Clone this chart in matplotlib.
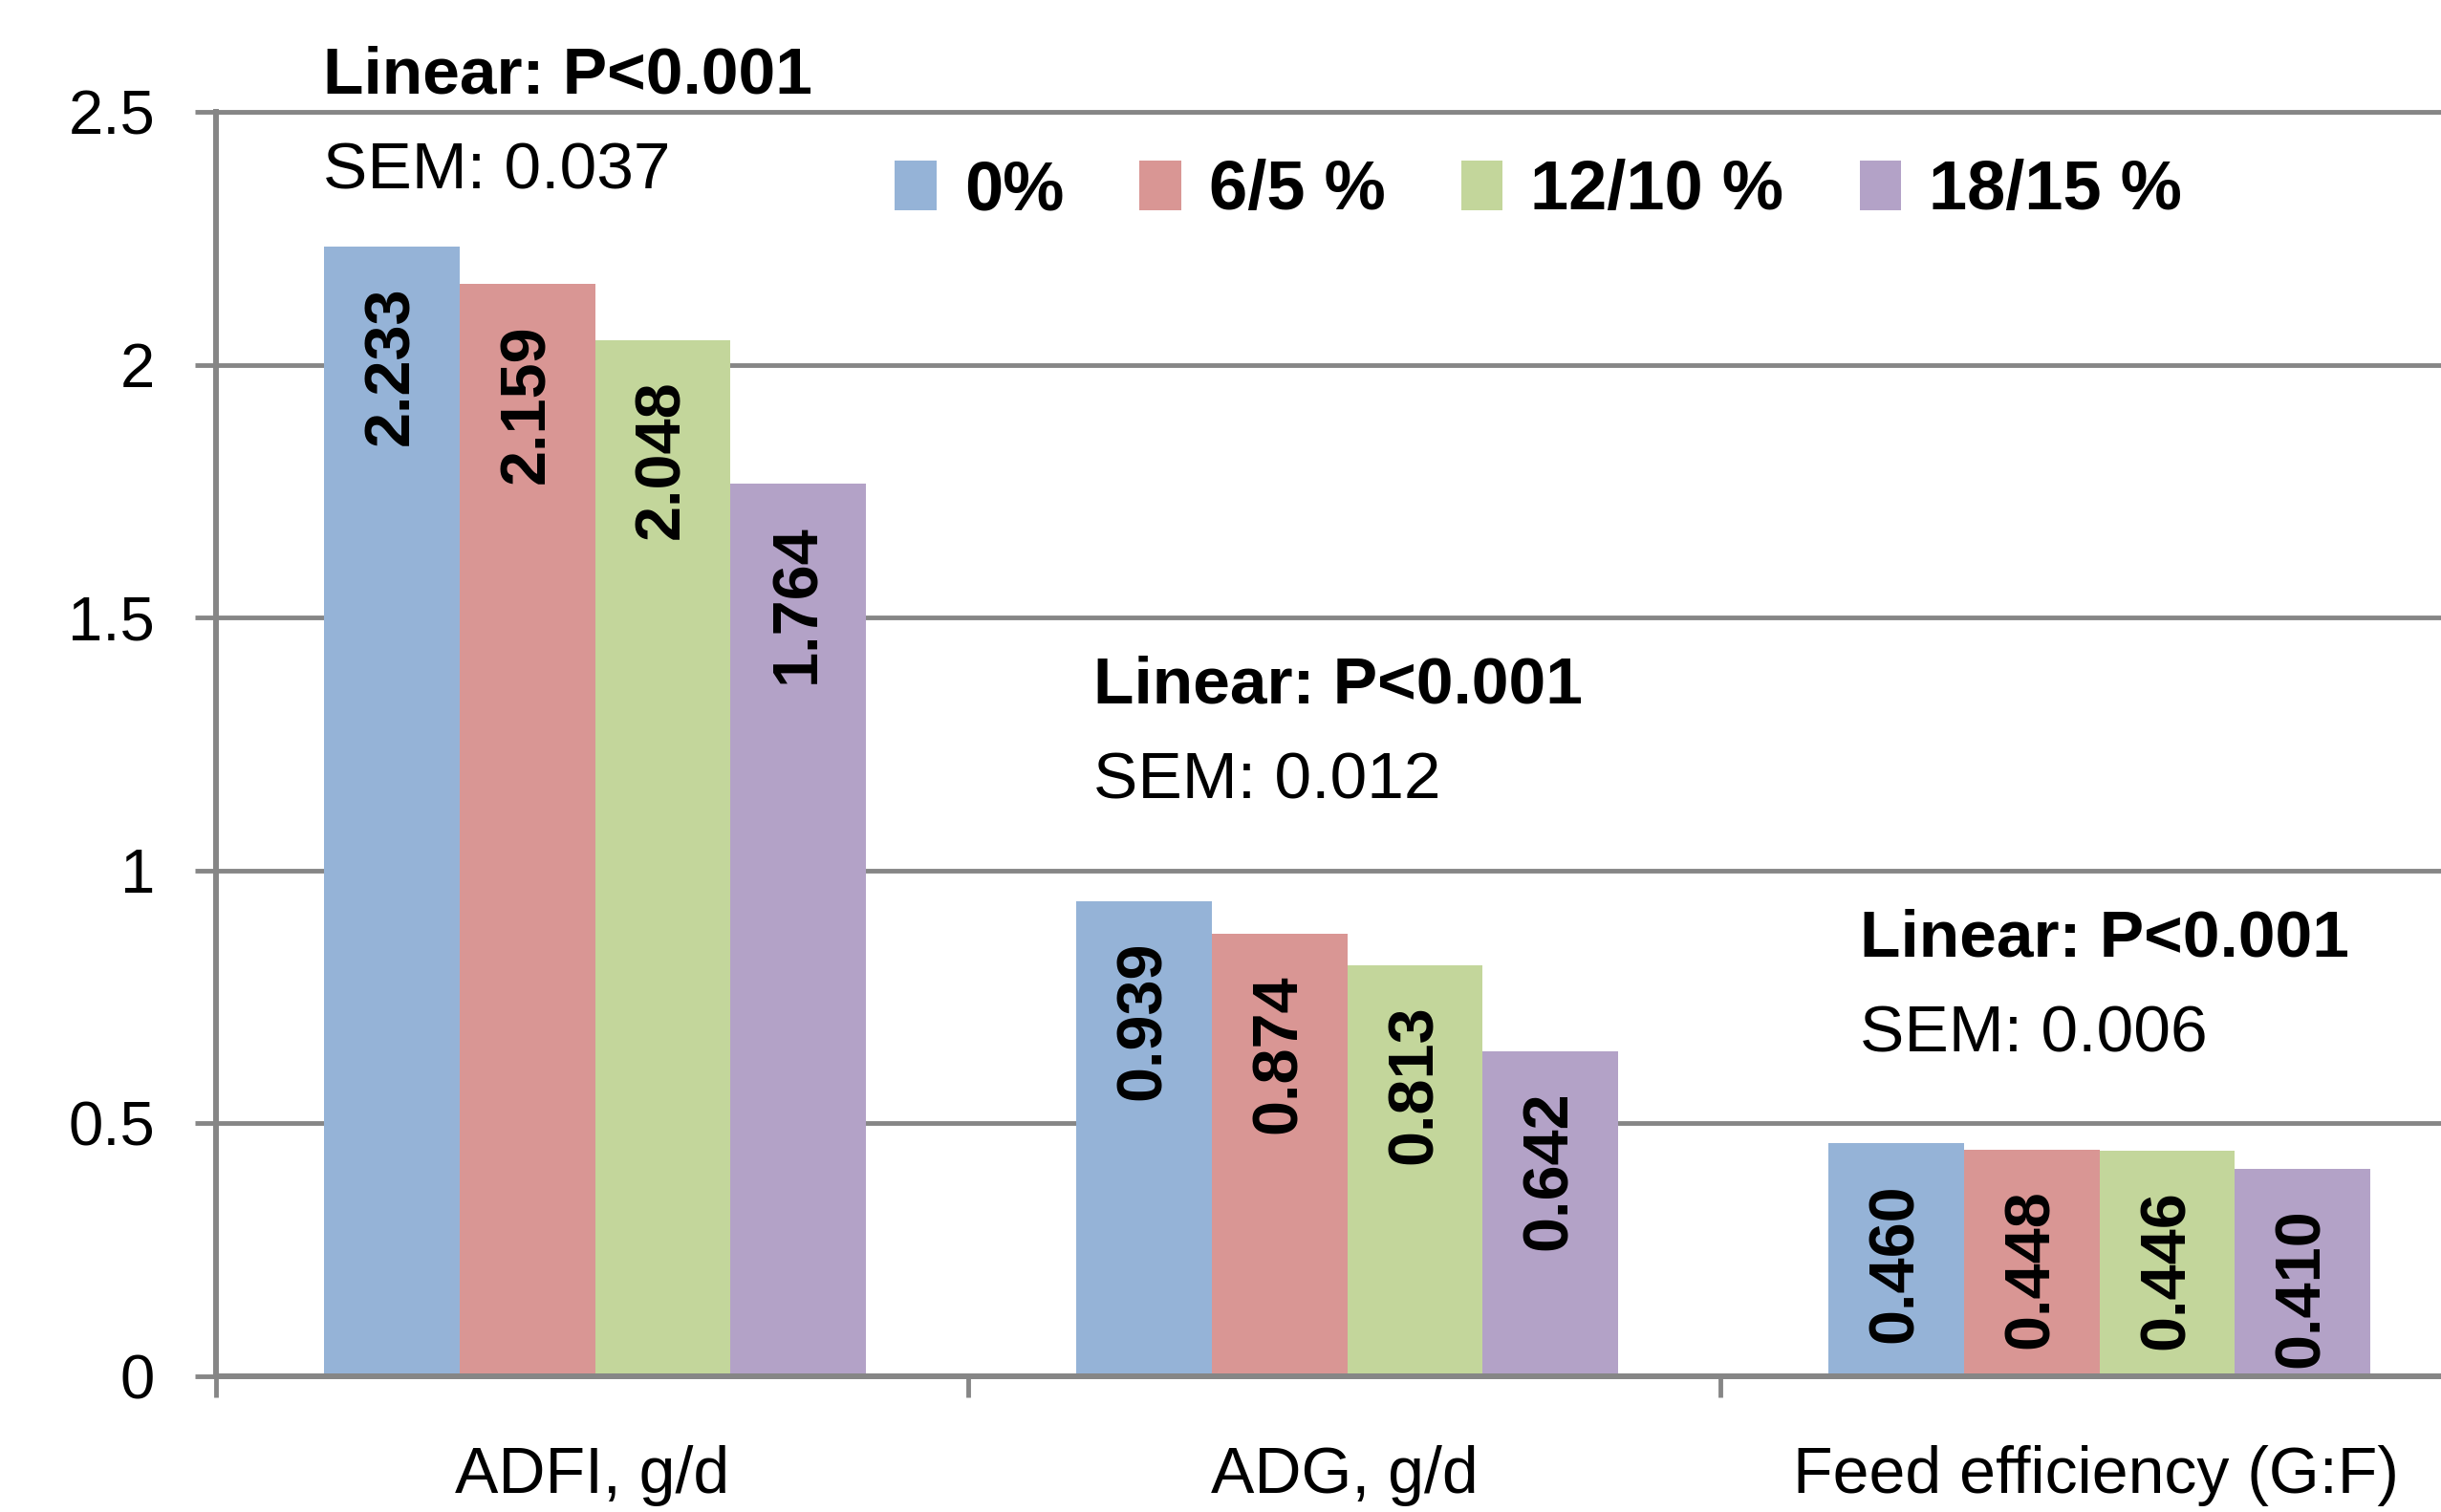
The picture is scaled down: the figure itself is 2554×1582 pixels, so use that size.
import matplotlib
matplotlib.use('Agg')
import matplotlib.pyplot as plt
import matplotlib.transforms as mtransforms
from matplotlib.patches import Patch
import numpy as np

plt.rcParams['font.family'] = ['Liberation Sans', 'DejaVu Sans']

# values
categories = ['ADFI, g/d', 'ADG, g/d', 'Feed efficiency (G:F)']
levels = ['0%', '6/5 %', '12/10 %', '18/15 %']
level_0 = [2.233, 0.939, 0.460]
level_6_5 = [2.159, 0.874, 0.448]
level_12_10 = [2.048, 0.813, 0.446]
level_18_15 = [1.764, 0.642, 0.410]
p_texts = ['Linear: P<0.001', 'Linear: P<0.001', 'Linear: P<0.001']
sem_values = [0.037, 0.012, 0.006]
y_ticks = [0, 0.5, 1, 1.5, 2, 2.5]
y_tick_labels = ['0', '0.5', '1', '1.5', '2', '2.5']

colors = ['#95B3D7', '#D99694', '#C3D69B', '#B3A2C7']
grid_color = '#868686'

# where the P / SEM notes sit (x relative to group centre, y in data units)
note_dx = [-0.358, -0.334, -0.314]
note_y = [2.536, 1.332, 0.831]
sem_y = [2.347, 1.143, 0.642]

bar_w = 0.18
bar_shift = 0.004


def draw():
    fig = plt.figure(figsize=(25.54, 15.82), dpi=100)
    # the plot area runs a bit past the right edge, like the cropped original
    ax = fig.add_axes([0.0885, 0.0898, 0.9244, 0.8363])

    series = [level_0, level_6_5, level_12_10, level_18_15]
    x = np.arange(len(categories)) + bar_shift
    for j, vals in enumerate(series):
        xs = x + (j - 1.5) * bar_w
        ax.bar(xs, vals, width=bar_w, color=colors[j], linewidth=0, label=levels[j])
        for xi, v in zip(xs, vals):
            ax.annotate(f'{v:.3f}', xy=(xi, v), xytext=(0, -30), textcoords='offset points',
                        rotation=90, ha='center', va='top', fontsize=48, fontweight='bold')

    ax.set_xlim(-0.5, 2.5)
    ax.set_ylim(0, 2.5)
    ax.set_yticks(y_ticks)
    ax.set_yticklabels(y_tick_labels)
    ax.set_xticks([-0.5, 0.5, 1.5, 2.5])
    ax.set_xticklabels([])

    ax.tick_params(axis='y', direction='out', length=16, width=3.5, color=grid_color,
                   pad=30, labelsize=47)
    ax.tick_params(axis='x', direction='out', length=16, width=3.5, color=grid_color)

    ax.yaxis.grid(True, color=grid_color, linewidth=3.5)
    ax.set_axisbelow(True)
    ax.spines['right'].set_visible(False)
    ax.spines['left'].set_color(grid_color)
    ax.spines['left'].set_linewidth(4.3)
    ax.spines['bottom'].set_color(grid_color)
    ax.spines['bottom'].set_linewidth(4.3)
    ax.spines['top'].set_color(grid_color)
    ax.spines['top'].set_linewidth(3.5)

    # category names under each group
    trans = mtransforms.blended_transform_factory(ax.transData, ax.transAxes)
    for i, cat in enumerate(categories):
        ax.text(i, -0.0922, cat, transform=trans, ha='center', va='baseline', fontsize=49)

    # linear trend notes
    for i in range(len(categories)):
        ax.text(i + note_dx[i], note_y[i], p_texts[i], ha='left', va='baseline',
                fontsize=50, fontweight='bold', clip_on=False)
        ax.text(i + note_dx[i], sem_y[i], f'SEM: {sem_values[i]:.3f}', ha='left',
                va='baseline', fontsize=50, clip_on=False)

    handles = [Patch(facecolor=c, edgecolor='none') for c in colors]
    ax.legend(handles, levels, loc='center', bbox_to_anchor=(0.586, 0.937), ncol=4,
              frameon=False, prop={'weight': 'bold', 'size': 52}, handlelength=0.6,
              handleheight=0.72, handletextpad=0.4, columnspacing=1.1,
              borderpad=0, borderaxespad=0)

    fig.savefig('out.png', dpi=100)


if __name__ == '__main__':
    draw()
